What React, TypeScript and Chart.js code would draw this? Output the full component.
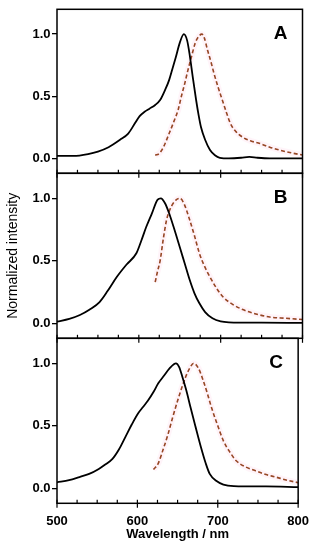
import React, { useEffect, useRef } from 'react';
import { Chart, registerables } from 'chart.js';

Chart.register(...registerables);

// ---- Data ----
const X_MIN = 500;
const X_MAX = 800;
const Y_MIN = -0.12;
const Y_MAX = 1.2;
const minorStep = 25;
const majorStep = 100;
const yTickStep = 0.5;
const panelLabels = ['A', 'B', 'C'];
const xTitle = 'Wavelength / nm';
const yTitle = 'Normalized intensity';

// Panel A
const aBlackX = [500, 520, 538, 550, 563, 577, 587, 595, 601, 607, 613, 620, 626, 632, 637, 641, 645, 650, 655, 659, 662, 666, 670, 673, 676, 681, 687, 693, 699, 710, 725, 735, 745, 760, 800];
const aBlackY = [0.02, 0.02, 0.035, 0.055, 0.09, 0.15, 0.2, 0.28, 0.34, 0.375, 0.4, 0.43, 0.47, 0.55, 0.63, 0.72, 0.81, 0.93, 1.0, 0.95, 0.84, 0.65, 0.47, 0.35, 0.25, 0.15, 0.067, 0.025, 0.005, 0.0, 0.005, 0.012, 0.005, 0.0, 0.0];
const aRedX = [620, 625, 630, 637, 643, 648, 652, 656, 660, 664, 669, 673, 677, 680, 684, 688, 692, 697, 702, 707, 712, 718, 727, 737, 748, 760, 772, 786, 800];
const aRedY = [0.025, 0.04, 0.09, 0.2, 0.3, 0.39, 0.5, 0.6, 0.71, 0.81, 0.93, 0.98, 1.0, 0.97, 0.87, 0.78, 0.68, 0.57, 0.47, 0.37, 0.28, 0.22, 0.17, 0.14, 0.12, 0.09, 0.067, 0.045, 0.027];

// Panel B
const bBlackX = [500, 515, 528, 540, 552, 562, 573, 585, 597, 603, 609, 616, 623, 627, 632, 637, 643, 650, 656, 662, 668, 674, 681, 690, 700, 710, 750, 800];
const bBlackY = [0.013, 0.035, 0.066, 0.11, 0.17, 0.26, 0.37, 0.47, 0.56, 0.66, 0.77, 0.88, 0.99, 1.0, 0.96, 0.88, 0.76, 0.61, 0.48, 0.35, 0.24, 0.16, 0.09, 0.04, 0.015, 0.008, 0.005, 0.003];
const bRedX = [620, 623, 626, 630, 634, 638, 642, 646, 650, 655, 662, 668, 674, 680, 687, 695, 703, 715, 727, 743, 760, 780, 800];
const bRedY = [0.33, 0.42, 0.5, 0.68, 0.83, 0.91, 0.96, 0.99, 1.0, 0.96, 0.83, 0.7, 0.56, 0.46, 0.37, 0.28, 0.21, 0.15, 0.11, 0.075, 0.05, 0.04, 0.03];

// Panel C
const cBlackX = [500, 515, 528, 540, 552, 560, 569, 577, 585, 593, 601, 607, 613, 620, 626, 633, 640, 648, 652, 656, 661, 666, 672, 679, 685, 690, 698, 707, 720, 760, 800];
const cBlackY = [0.048, 0.065, 0.09, 0.115, 0.155, 0.19, 0.235, 0.31, 0.41, 0.51, 0.6, 0.65, 0.7, 0.77, 0.84, 0.9, 0.96, 1.0, 0.97, 0.89, 0.78, 0.65, 0.5, 0.33, 0.2, 0.115, 0.06, 0.03, 0.018, 0.015, 0.01];
const cRedX = [620, 626, 632, 638, 644, 650, 655, 660, 665, 670, 676, 682, 687, 692, 700, 707, 715, 723, 735, 747, 760, 772, 786, 800];
const cRedY = [0.15, 0.2, 0.31, 0.43, 0.57, 0.7, 0.8, 0.89, 0.96, 1.0, 0.96, 0.86, 0.76, 0.65, 0.5, 0.38, 0.29, 0.22, 0.17, 0.14, 0.11, 0.09, 0.065, 0.045];

const panelBlackX = [aBlackX, bBlackX, cBlackX];
const panelBlackY = [aBlackY, bBlackY, cBlackY];
const panelRedX = [aRedX, bRedX, cRedX];
const panelRedY = [aRedY, bRedY, cRedY];

// ---- Layout (page pixels) ----
const W = 319;
const H = 550;
const PLOT_LEFT = 57;
const PLOT_RIGHT = 302.5;
const panelTops = [7.5, 173.3, 338.3];
const panelBottoms = [173.3, 338.3, 503.3];

const FONT = "'Liberation Sans', Arial, Helvetica, sans-serif";
const BLACK = '#000000';
const RED = 'rgb(150, 70, 36)';
const GLOW = 'rgba(255, 205, 228, 0.22)';

const zip = (xs: number[], ys: number[]) => xs.map((x, i) => ({ x, y: ys[i] }));

const framePlugin = {
  id: 'panelFrame',
  afterDraw(chart: any) {
    const { ctx, chartArea: a, scales } = chart;
    const xs = scales.x;
    const ys = scales.y;
    const label = chart.options.plugins.panelFrame.label;
    ctx.save();
    ctx.strokeStyle = BLACK;
    ctx.lineWidth = 1.5;
    ctx.strokeRect(a.left, a.top, a.right - a.left, a.bottom - a.top);
    ctx.lineWidth = 1.2;
    for (let v = X_MIN; v <= X_MAX; v += minorStep) {
      const px = xs.getPixelForValue(v);
      const major = v % majorStep === 0;
      ctx.beginPath();
      ctx.moveTo(px, a.bottom - 3.5);
      ctx.lineTo(px, major ? a.bottom + 4.5 : a.bottom);
      ctx.stroke();
    }
    ctx.fillStyle = BLACK;
    ctx.font = `bold 19px ${FONT}`;
    ctx.textAlign = 'center';
    ctx.textBaseline = 'middle';
    ctx.fillText(label, a.right - 22, ys.getPixelForValue(1.0) - 0.5);
    ctx.restore();
  },
};

function makeConfig(i: number): any {
  const isBottom = i === 2;
  const isMiddle = i === 1;
  const xAxisHeight = 38.5;
  const padBottom = isBottom ? H - panelBottoms[i] - xAxisHeight : H - panelBottoms[i];
  return {
    type: 'line',
    data: {
      datasets: [
        {
          data: zip(panelBlackX[i], panelBlackY[i]),
          borderColor: BLACK,
          borderWidth: 1.8,
          pointRadius: 0,
          cubicInterpolationMode: 'monotone',
          fill: false,
        },
        {
          data: zip(panelRedX[i], panelRedY[i]),
          borderColor: RED,
          borderWidth: 1.6,
          borderDash: [4, 2.5],
          pointRadius: 0,
          cubicInterpolationMode: 'monotone',
          fill: false,
        },
        {
          data: zip(panelRedX[i], panelRedY[i]),
          borderColor: GLOW,
          borderWidth: 6,
          pointRadius: 0,
          cubicInterpolationMode: 'monotone',
          fill: false,
        },
      ],
    },
    options: {
      responsive: false,
      animation: false,
      devicePixelRatio: 1,
      events: [],
      layout: {
        padding: { top: panelTops[i], bottom: padBottom, left: 0, right: W - PLOT_RIGHT },
      },
      plugins: {
        legend: { display: false },
        tooltip: { enabled: false },
        panelFrame: { label: panelLabels[i] },
      },
      scales: {
        x: {
          type: 'linear',
          min: X_MIN,
          max: X_MAX,
          display: isBottom,
          grid: { display: false, drawTicks: false },
          border: { display: false },
          ticks: {
            stepSize: majorStep,
            autoSkip: false,
            padding: 10,
            color: BLACK,
            font: { family: FONT, size: 13, weight: 'bold' },
          },
          title: {
            display: isBottom,
            text: xTitle,
            color: BLACK,
            padding: { top: 0, bottom: 0 },
            font: { family: FONT, size: 13, weight: 'bold' },
          },
          afterFit: (s: any) => {
            if (isBottom) s.height = xAxisHeight;
          },
        },
        y: {
          type: 'linear',
          min: Y_MIN,
          max: Y_MAX,
          grid: {
            display: true,
            drawOnChartArea: false,
            drawTicks: true,
            tickLength: 5,
            color: BLACK,
            lineWidth: 1.3,
          },
          border: { display: false },
          ticks: {
            stepSize: yTickStep,
            includeBounds: false,
            padding: 1.5,
            color: BLACK,
            font: { family: FONT, size: 13, weight: 'bold' },
            callback: (v: number) => Number(v).toFixed(1),
          },
          title: {
            display: isMiddle,
            text: yTitle,
            color: BLACK,
            padding: { top: 5, bottom: 0 },
            font: { family: FONT, size: 14, weight: 'normal' },
          },
          afterFit: (s: any) => {
            s.width = PLOT_LEFT;
          },
        },
      },
    },
    plugins: [framePlugin],
  };
}

function Panel({ index }: { index: number }) {
  const ref = useRef<HTMLCanvasElement | null>(null);
  useEffect(() => {
    if (!ref.current) return;
    const chart = new Chart(ref.current, makeConfig(index));
    return () => chart.destroy();
  }, [index]);
  return (
    <canvas
      ref={ref}
      width={W}
      height={H}
      style={{ position: 'absolute', left: 0, top: 0, width: W, height: H }}
    />
  );
}

export default function App() {
  return (
    <div style={{ position: 'fixed', left: 0, top: 0, width: W, height: H, background: '#fff' }}>
      {[0, 1, 2].map((i) => (
        <Panel key={i} index={i} />
      ))}
    </div>
  );
}
